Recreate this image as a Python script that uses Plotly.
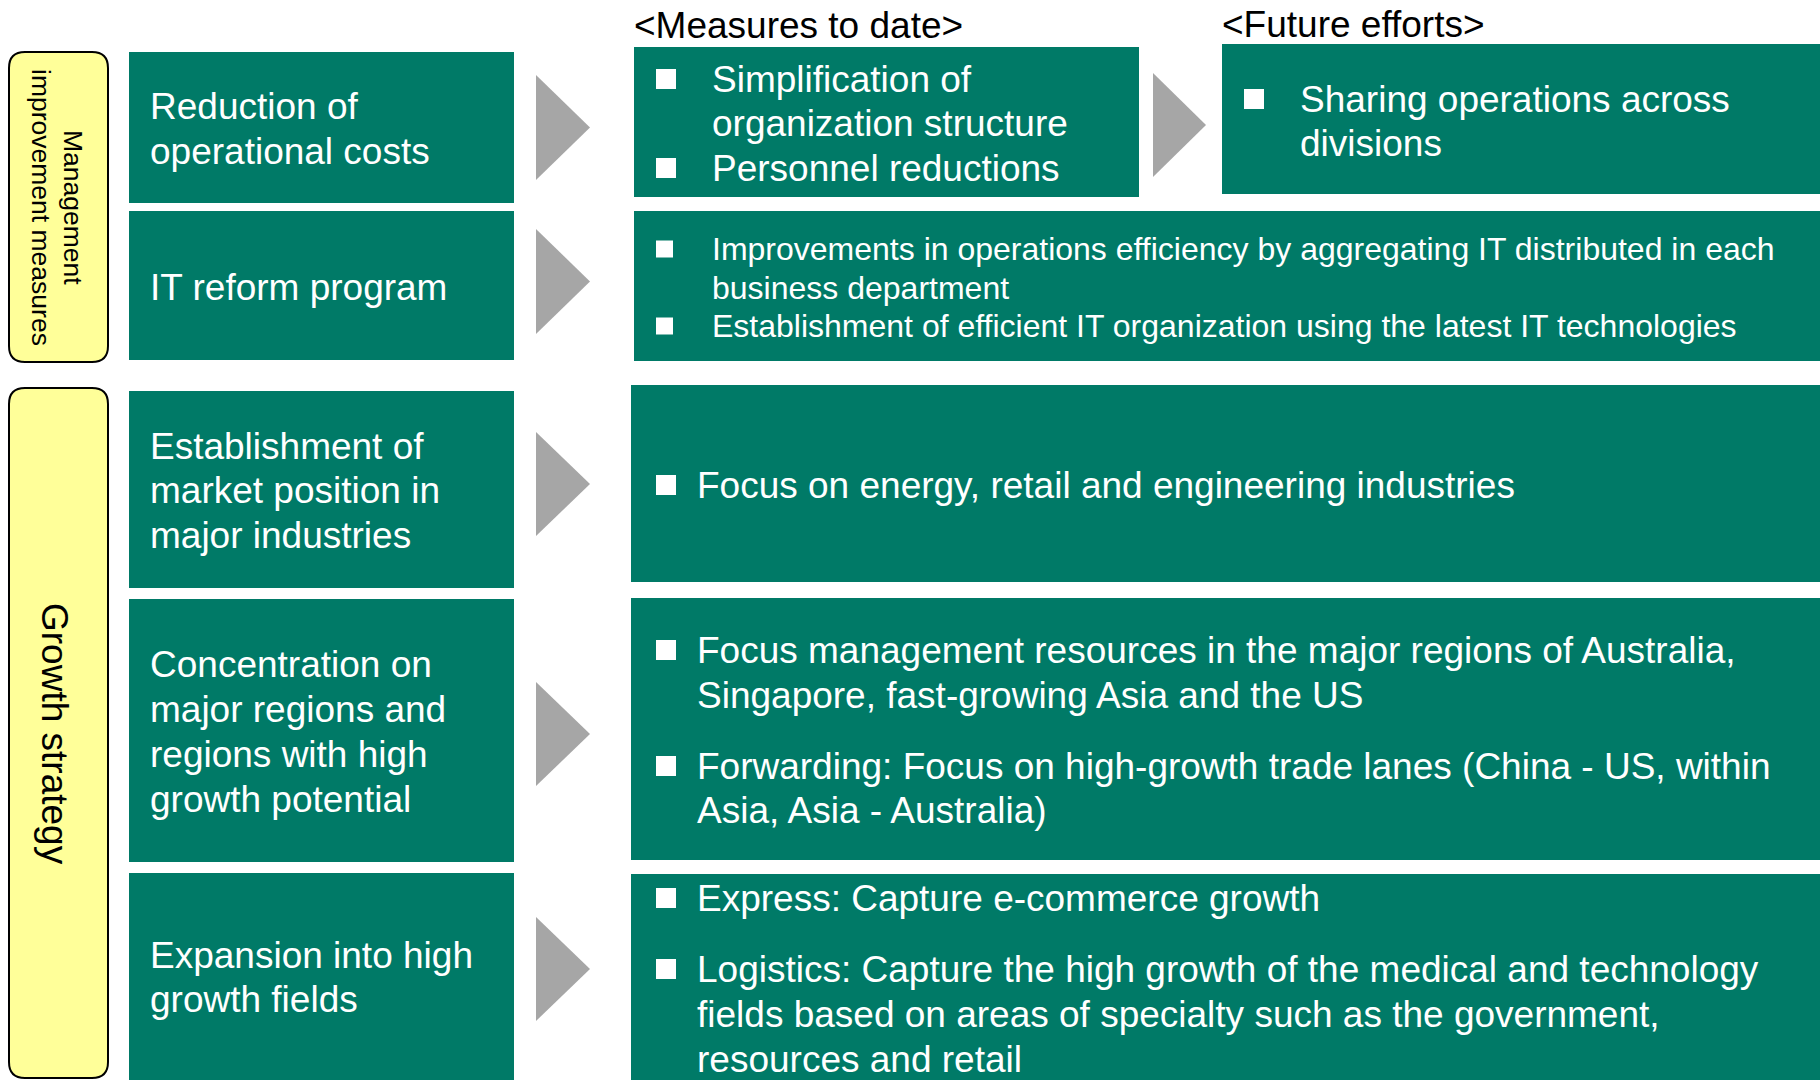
import plotly.graph_objects as go

# ---------------- data (text content) ----------------
headings = ["<Measures to date>", "<Future efforts>"]
side_labels = [["Management", "improvement measures"], ["Growth strategy"]]
themes = [
    ["Reduction of", "operational costs"],
    ["IT reform program"],
    ["Establishment of", "market position in", "major industries"],
    ["Concentration on", "major regions and", "regions with high", "growth potential"],
    ["Expansion into high", "growth fields"],
]
measures_row1 = [["Simplification of", "organization structure"], ["Personnel reductions"]]
future_row1 = [["Sharing operations across", "divisions"]]
measures_row2 = [
    ["Improvements in operations efficiency by aggregating IT distributed in each", "business department"],
    ["Establishment of efficient IT organization using the latest IT technologies"],
]
measures_row3 = [["Focus on energy, retail and engineering industries"]]
measures_row4 = [
    ["Focus management resources in the major regions of Australia,", "Singapore, fast-growing Asia and the US"],
    ["Forwarding: Focus on high-growth trade lanes (China - US, within", "Asia, Asia - Australia)"],
]
measures_row5 = [
    ["Express: Capture e-commerce growth"],
    ["Logistics: Capture the high growth of the medical and technology",
     "fields based on areas of specialty such as the government,",
     "resources and retail"],
]

# ---------------- layout / style ----------------
W, H = 1820, 1080
GREEN = "#007A67"
YELLOW = "#FFFF99"
GRAY = "#A6A6A6"
FONT = "Arial, Liberation Sans, sans-serif"
BIG = 37

shapes = []
ann = []

def rect(x0, y0, x1, y1, color):
    shapes.append(dict(type="rect", xref="x", yref="y", x0=x0, x1=x1, y0=y0, y1=y1,
                       fillcolor=color, line=dict(width=0), layer="below"))

def rrect(x0, y0, x1, y1, r, fill):
    p = (f"M {x0+r},{y0} L {x1-r},{y0} Q {x1},{y0} {x1},{y0+r} "
         f"L {x1},{y1-r} Q {x1},{y1} {x1-r},{y1} L {x0+r},{y1} Q {x0},{y1} {x0},{y1-r} "
         f"L {x0},{y0+r} Q {x0},{y0} {x0+r},{y0} Z")
    shapes.append(dict(type="path", xref="x", yref="y", path=p, fillcolor=fill,
                       line=dict(color="black", width=2), layer="below"))

def tri(x0, y0, x1, y1):
    ym = (y0 + y1) / 2
    shapes.append(dict(type="path", xref="x", yref="y",
                       path=f"M {x0},{y0} L {x1},{ym} L {x0},{y1} Z",
                       fillcolor=GRAY, line=dict(width=0), layer="below"))

def text(x, y, s, size, color="white", angle=0, anchor="left"):
    ann.append(dict(x=x, y=y, xref="x", yref="y", text=s, showarrow=False,
                    xanchor=anchor, yanchor="middle", textangle=angle,
                    font=dict(family=FONT, size=size, color=color)))

def lines(x, ys, ls, size):
    for y, s in zip(ys, ls):
        text(x, y, s, size)

def bullets(bx, bsz, tx, items, ys_list, size):
    for item, ys in zip(items, ys_list):
        y0 = ys[0]
        shapes.append(dict(type="rect", xref="x", yref="y", x0=bx, x1=bx + bsz,
                           y0=y0 - bsz / 2, y1=y0 + bsz / 2, fillcolor="white",
                           line=dict(width=0)))
        lines(tx, ys, item, size)

# side yellow boxes
rrect(9, 52, 108, 362, 16, YELLOW)
rrect(9, 388, 108, 1078, 16, YELLOW)
text(73, 207, side_labels[0][0], 26.5, "black", 90, "center")
text(41, 207, side_labels[0][1], 26.5, "black", 90, "center")
text(55, 734, side_labels[1][0], BIG, "black", 90, "center")

# theme boxes
theme_boxes = [(52, 203), (211, 360), (391, 588), (599, 862), (873, 1085)]
theme_ys = [[106, 151], [287], [446, 490, 535], [664, 709, 754, 799], [955, 999]]
for (y0, y1), ls, ys in zip(theme_boxes, themes, theme_ys):
    rect(129, y0, 514, y1, GREEN)
    lines(148, ys, ls, BIG)

# arrows
for y0, y1 in [(75, 180), (229, 334), (432, 536), (682, 786), (917, 1021)]:
    tri(536, y0, 590, y1)
tri(1153, 73, 1206, 177)

# headings
text(632, 25, headings[0], BIG, "black")
text(1220, 24, headings[1], BIG, "black")

# right boxes
rect(634, 47, 1139, 197, GREEN)
rect(1222, 44, 1825, 194, GREEN)
rect(634, 211, 1825, 361, GREEN)
rect(631, 385, 1825, 582, GREEN)
rect(631, 598, 1825, 860, GREEN)
rect(631, 874, 1825, 1085, GREEN)

bullets(656, 20, 710, measures_row1, [[79, 123], [168]], BIG)
bullets(1244, 20, 1298, future_row1, [[99, 143]], BIG)
bullets(656, 17, 710, measures_row2, [[249, 288], [326]], 32)
bullets(656, 20, 695, measures_row3, [[485]], BIG)
bullets(656, 20, 695, measures_row4, [[650, 695], [766, 810]], BIG)
bullets(656, 20, 695, measures_row5, [[898], [969, 1014, 1059]], BIG)

fig = go.Figure()
fig.update_layout(
    width=W, height=H, margin=dict(l=0, r=0, t=0, b=0),
    paper_bgcolor="white", plot_bgcolor="white",
    xaxis=dict(range=[0, W], visible=False, fixedrange=True),
    yaxis=dict(range=[H, 0], visible=False, fixedrange=True),
    shapes=shapes, annotations=ann, showlegend=False,
)
fig.write_html(
    "out.html",
    config={"displayModeBar": False},
    post_script="document.body.style.margin='0';document.body.style.overflow='hidden';",
)
